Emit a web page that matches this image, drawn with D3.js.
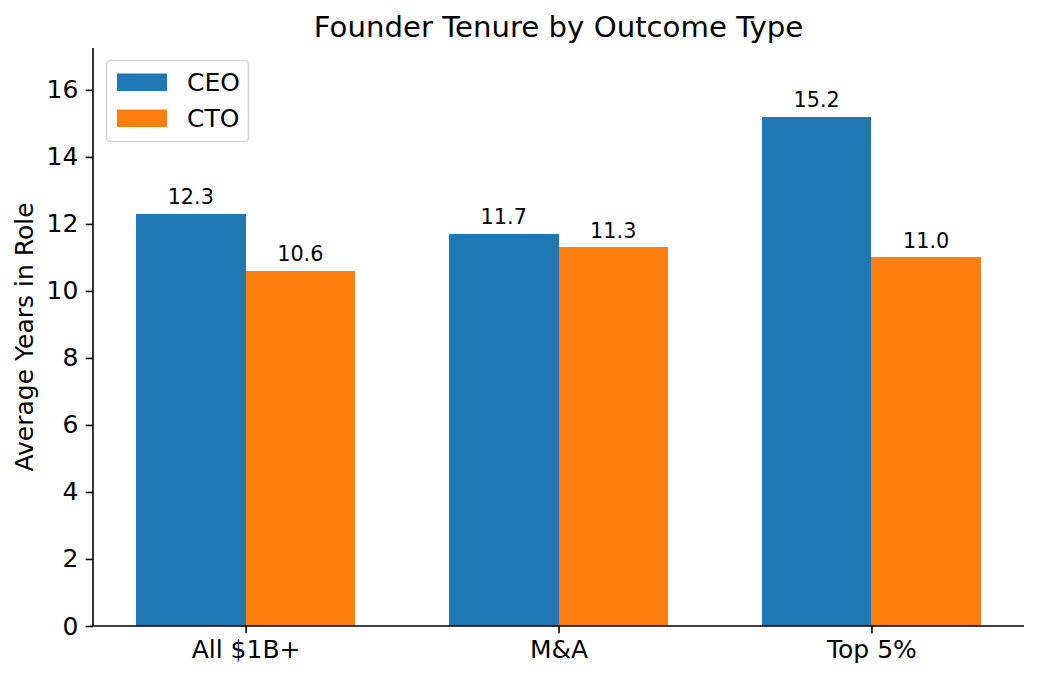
<!DOCTYPE html>
<html><head><meta charset="utf-8">
<script src="https://cdn.jsdelivr.net/npm/d3@7"></script>
<style>body{margin:0;background:#fff}svg{display:block;font-family:"DejaVu Sans",sans-serif}</style>
</head><body><svg id="c" width="1038" height="680"></svg>
<script>
const categories = ["All $1B+", "M&A", "Top 5%"];
const seriesNames = ["CEO", "CTO"];
const ceoValues = [12.3, 11.7, 15.2];
const ctoValues = [10.6, 11.3, 11.0];
const yTicks = [0, 2, 4, 6, 8, 10, 12, 14, 16];
const colors = ["#1f77b4", "#ff7f0e"];

const svg = d3.select("#c");
const L = 93, R = 1024, T = 48, B = 626;
const barW = 0.35;
const x = d3.scaleLinear().domain([-0.4875, 2.4875]).range([L, R]);
const y = d3.scaleLinear().domain([0, 17.25]).range([B, T]);
const series = [ceoValues, ctoValues];

series.forEach((vals, s) => {
  const g = svg.append("g");
  vals.forEach((v, i) => {
    const x0 = s === 0 ? x(i - barW) : x(i);
    const x1 = s === 0 ? x(i) : x(i + barW);
    g.append("rect").attr("x", x0).attr("y", y(v)).attr("width", x1 - x0).attr("height", y(0) - y(v))
      .attr("fill", colors[s]).attr("shape-rendering", "crispEdges");
    g.append("text").attr("x", (x0 + x1) / 2).attr("y", y(v) - 9.5).attr("text-anchor", "middle")
      .attr("font-size", 20.8).attr("fill", "#000").text(v.toFixed(1));
  });
});

// axes
const yAxis = d3.axisLeft(y).tickValues(yTicks).tickSize(7.3).tickPadding(7.3);
const gy = svg.append("g").attr("transform", `translate(${L},0)`).call(yAxis);
const xAxis = d3.axisBottom(x).tickValues([0, 1, 2]).tickFormat((d) => categories[d]).tickSize(7.3).tickPadding(7.3);
const gx = svg.append("g").attr("transform", `translate(0,${B})`).call(xAxis);
[gx, gy].forEach(g => {
  g.select(".domain").attr("stroke", "#000").attr("stroke-width", 1.6);
  g.selectAll(".tick line").attr("stroke", "#000").attr("stroke-width", 1.6);
  g.selectAll(".tick text").attr("font-size", 25).attr("fill", "#000").attr("font-family", "DejaVu Sans");
});
gy.select(".domain").attr("d", `M0,${B}V${T}`);
gx.select(".domain").attr("d", `M${L},0H${R}`);

// title and label
svg.append("text").attr("x", (L + R) / 2).attr("y", 37).attr("text-anchor", "middle")
  .attr("font-size", 29.2).attr("fill", "#000").text("Founder Tenure by Outcome Type");
svg.append("text").attr("transform", `translate(33,${(T + B) / 2}) rotate(-90)`).attr("text-anchor", "middle")
  .attr("font-size", 25).attr("fill", "#000").text("Average Years in Role");

// legend
const lg = svg.append("g");
lg.append("rect").attr("x", 106.5).attr("y", 60.5).attr("width", 142).attr("height", 81).attr("rx", 4)
  .attr("fill", "#fff").attr("fill-opacity", 0.8).attr("stroke", "#d6d6d6").attr("stroke-width", 1.6);
seriesNames.forEach((n, i) => {
  const yy = 82 + i * 36;
  lg.append("rect").attr("x", 117).attr("y", yy - 8.5).attr("width", 50).attr("height", 17.5).attr("fill", colors[i]);
  lg.append("text").attr("x", 187).attr("y", yy + 9).attr("font-size", 25).attr("fill", "#000").text(n);
});
</script></body></html>
